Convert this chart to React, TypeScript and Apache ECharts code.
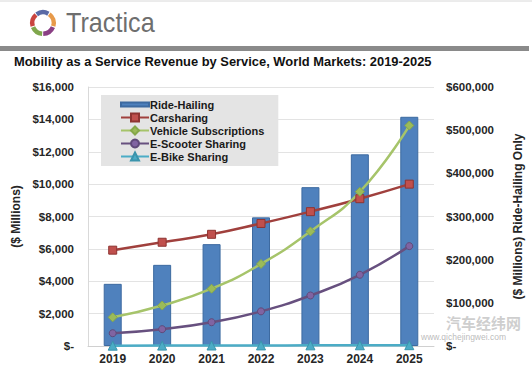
import React, { useEffect, useRef } from "react";
import * as echarts from "echarts";

const years = ["2019", "2020", "2021", "2022", "2023", "2024", "2025"];
const rideHailing = [144000, 188000, 236000, 298000, 368000, 444000, 531000];
const carsharing = [5920, 6410, 6900, 7570, 8300, 9100, 10000];
const vehicleSubscriptions = [1770, 2500, 3540, 5070, 7080, 9530, 13620];
const eScooterSharing = [790, 1040, 1470, 2140, 3120, 4400, 6170];
const eBikeSharing = [20, 25, 30, 35, 40, 45, 50];

const leftTicks = { min: 0, max: 16000, interval: 2000 };
const rightTicks = { min: 0, max: 600000, interval: 100000 };

const money = (v: number) => (v === 0 ? "$-" : "$" + v.toLocaleString("en-US"));

export default function App() {
  const ref = useRef<HTMLDivElement>(null);
  useEffect(() => {
    document.body.style.margin = "0";
    const chart = echarts.init(ref.current!, null, { renderer: "svg" });
    const font = "Liberation Sans, Arial, sans-serif";
    const lbl = { fontFamily: font, fontSize: 11.5, fontWeight: "bold" as const, color: "#262626" };
    chart.setOption({
      animation: false,
      backgroundColor: "#fff",
      textStyle: { fontFamily: font },
      graphic: [
        { type: "line", shape: { x1: 0, y1: 1, x2: 532, y2: 1 }, style: { stroke: "#d8d8d8", lineWidth: 1 } },
        { type: "sector", shape: { cx: 43, cy: 23, r: 13, r0: 8.5, startAngle: -2.2, endAngle: -1.05 }, style: { fill: "#5a6aa6" } },
        { type: "sector", shape: { cx: 43, cy: 23, r: 13, r0: 8.5, startAngle: -0.95, endAngle: 0.3 }, style: { fill: "#e79a4a" } },
        { type: "sector", shape: { cx: 43, cy: 23, r: 13, r0: 8.5, startAngle: 0.4, endAngle: 1.55 }, style: { fill: "#8a3f84" } },
        { type: "sector", shape: { cx: 43, cy: 23, r: 13, r0: 8.5, startAngle: 1.65, endAngle: 2.75 }, style: { fill: "#7fa74c" } },
        { type: "sector", shape: { cx: 43, cy: 23, r: 13, r0: 8.5, startAngle: 2.85, endAngle: 4.0 }, style: { fill: "#c9443f" } },
        { type: "text", x: 66, y: 9, scaleX: 0.9, style: { text: "Tractica", fontFamily: font, fontSize: 28, fill: "#6e6e6e" } },
        { type: "rect", shape: { x: 0, y: 46, width: 529, height: 5 }, style: { fill: "#8a8a8a" } },
        { type: "text", x: 14, y: 55, style: { text: "Mobility as a Service Revenue by Service, World Markets: 2019-2025", fontFamily: font, fontSize: 12.9, fontWeight: "bold", fill: "#111" } },
        { type: "text", x: 446, y: 315, z: 100, style: { text: "汽车经纬网", fontFamily: "Noto Sans CJK SC", fontSize: 15, fontWeight: "bold", fill: "rgba(190,190,190,0.75)" } },
        { type: "text", x: 421, y: 332, z: 100, style: { text: "www.qichejingwei.com", fontFamily: font, fontSize: 8.5, fill: "rgba(170,170,170,0.8)" } },
      ],
      grid: { left: 88, right: 97, top: 87, bottom: 16 },
      legend: {
        orient: "vertical",
        left: 101,
        top: 95,
        width: 182,
        padding: [4, 14, 4, 19],
        itemGap: 2,
        itemWidth: 28,
        itemHeight: 10,
        backgroundColor: "#e4e4e4",
        textStyle: { ...lbl, fontSize: 11, color: "#1a1a1a", padding: [0, 0, 0, -4] },
        data: [
          { name: "Ride-Hailing", icon: "path://M0,3 L28,3 L28,7 L0,7 Z" },
          "Carsharing",
          "Vehicle Subscriptions",
          "E-Scooter Sharing",
          "E-Bike Sharing",
        ],
      },
      xAxis: {
        type: "category",
        data: years,
        axisLine: { lineStyle: { color: "#d0d0d0" } },
        axisTick: { show: false },
        axisLabel: { ...lbl, fontSize: 12, margin: 7 },
      },
      yAxis: [
        {
          type: "value",
          ...leftTicks,
          name: "($ Millions)",
          nameLocation: "middle",
          nameRotate: 90,
          nameGap: 64,
          nameTextStyle: { ...lbl, fontSize: 12 },
          axisLine: { show: true, lineStyle: { color: "#d9d9d9" } },
          axisTick: { show: false },
          splitLine: { lineStyle: { color: "#e3e3e3" } },
          axisLabel: { ...lbl, margin: 14, formatter: money },
        },
        {
          type: "value",
          ...rightTicks,
          name: "($ Millions) Ride-Hailing Only",
          nameLocation: "middle",
          nameRotate: 90,
          nameGap: 78,
          nameTextStyle: { ...lbl, fontSize: 12 },
          axisLine: { show: false },
          axisTick: { show: false },
          splitLine: { show: false },
          axisLabel: { ...lbl, margin: 12, formatter: money },
        },
      ],
      series: [
        {
          name: "Ride-Hailing",
          type: "bar",
          yAxisIndex: 1,
          data: rideHailing,
          barWidth: 18,
          itemStyle: { color: "#4f81bd", borderColor: "#3d6aa0", borderWidth: 1 },
        },
        {
          name: "Carsharing",
          type: "line",
          smooth: true,
          data: carsharing,
          symbol: "rect",
          symbolSize: 8,
          lineStyle: { color: "#a0403d", width: 2.5 },
          itemStyle: { color: "#c0504d", borderColor: "#8e3431", borderWidth: 1 },
        },
        {
          name: "Vehicle Subscriptions",
          type: "line",
          smooth: true,
          data: vehicleSubscriptions,
          symbol: "diamond",
          symbolSize: 9,
          lineStyle: { color: "#a6c46a", width: 2.5 },
          itemStyle: { color: "#9bbb59", borderColor: "#86a84a", borderWidth: 1 },
        },
        {
          name: "E-Scooter Sharing",
          type: "line",
          smooth: true,
          data: eScooterSharing,
          symbol: "circle",
          symbolSize: 7,
          lineStyle: { color: "#67507f", width: 2.5 },
          itemStyle: { color: "#8064a2", borderColor: "#5f4a7a", borderWidth: 1 },
        },
        {
          name: "E-Bike Sharing",
          type: "line",
          smooth: true,
          data: eBikeSharing,
          symbol: "triangle",
          symbolSize: 9,
          lineStyle: { color: "#4bacc6", width: 2.5 },
          itemStyle: { color: "#4bacc6", borderColor: "#3b94ac", borderWidth: 1 },
        },
      ],
    });
    return () => chart.dispose();
  }, []);
  return <div ref={ref} style={{ width: 532, height: 365 }} />;
}
